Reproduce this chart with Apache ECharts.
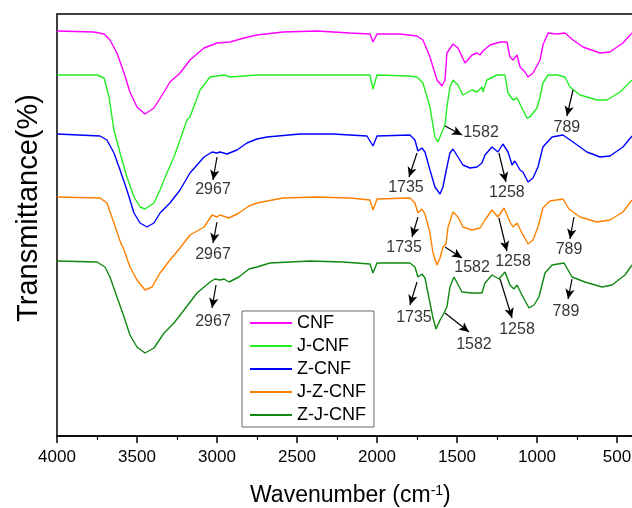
<!DOCTYPE html>
<html>
<head>
<meta charset="utf-8">
<script src="https://cdn.jsdelivr.net/npm/echarts@6/dist/echarts.min.js"></script>
<style>html,body{margin:0;padding:0;background:#fff;}#c{width:632px;height:508px;}</style>
</head>
<body>
<div id="c"></div>
<script>
// Spectra: [wavenumber (cm-1), transmittance (offset, arbitrary units)]
const cnf = [[4000,405],[3769,404],[3706,402],[3669,396],[3625,383],[3581,363],[3544,344],[3500,329],[3450,322],[3394,328],[3331,344],[3294,354],[3231,363],[3169,376],[3081,388],[3000,393],[2919,394],[2831,398],[2750,401],[2588,404],[2375,405],[2169,403],[2044,402],[2025,394],[2000,402],[1856,402],[1750,400],[1713,396],[1669,379],[1625,356],[1594,350],[1575,356],[1563,383],[1525,392],[1494,388],[1450,373],[1406,381],[1375,383],[1356,381],[1338,385],[1294,391],[1231,394],[1188,394],[1169,379],[1150,376],[1125,381],[1106,369],[1075,364],[1056,359],[1025,363],[981,376],[963,391],[931,403],[875,402],[825,403],[775,396],[713,389],[606,383],[544,384],[463,393],[406,403]];
const jcnf = [[4000,361],[3750,361],[3706,358],[3675,339],[3644,306],[3606,283],[3563,259],[3519,239],[3481,229],[3450,227],[3394,233],[3356,246],[3313,263],[3269,279],[3231,296],[3188,316],[3169,319],[3106,346],[3044,359],[2956,361],[2919,359],[2750,361],[2500,361],[2200,361],[2044,361],[2025,347],[2000,361],[1800,360],[1750,359],[1713,353],[1669,329],[1638,299],[1619,294],[1594,304],[1575,311],[1563,329],[1544,349],[1525,356],[1494,351],[1463,341],[1406,346],[1375,344],[1344,349],[1338,344],[1313,356],[1250,361],[1200,361],[1181,343],[1150,336],[1125,338],[1094,328],[1063,318],[1044,319],[1000,328],[981,339],[963,353],[931,361],[875,361],[825,359],[794,349],[731,341],[625,336],[563,336],[481,344],[406,356]];
const zcnf = [[4000,302],[3731,300],[3688,296],[3644,283],[3606,266],[3563,246],[3519,223],[3481,213],[3438,209],[3394,213],[3356,223],[3294,233],[3231,246],[3169,263],[3081,279],[3031,284],[3000,283],[2981,284],[2938,282],[2875,286],[2813,293],[2750,297],[2688,299],[2481,302],[2275,302],[2063,300],[2025,290],[2000,300],[1794,301],[1763,296],[1744,285],[1719,288],[1700,284],[1669,266],[1638,249],[1606,242],[1588,249],[1563,269],[1544,283],[1525,287],[1494,279],[1463,271],[1419,268],[1375,269],[1344,273],[1325,281],[1281,289],[1244,284],[1213,292],[1181,284],[1156,271],[1138,275],[1106,266],[1088,264],[1056,254],[1025,258],[994,269],[963,289],[906,299],[838,301],[775,294],[688,284],[606,279],[544,280],[463,289],[406,300]];
const jzcnf = [[4000,239],[3731,238],[3688,233],[3644,213],[3606,195],[3581,186],[3544,169],[3500,156],[3450,146],[3406,149],[3356,163],[3294,176],[3231,188],[3169,201],[3081,209],[3031,221],[3000,219],[2981,221],[2925,218],[2863,223],[2800,230],[2750,233],[2588,238],[2375,239],[2169,238],[2044,236],[2025,226],[2000,237],[1794,238],[1763,233],[1744,223],[1719,227],[1700,222],[1669,203],[1650,183],[1625,171],[1606,178],[1588,189],[1569,192],[1556,209],[1525,224],[1494,219],[1463,209],[1406,206],[1356,208],[1325,216],[1281,226],[1244,219],[1206,228],[1169,214],[1150,209],[1125,213],[1094,203],[1056,192],[1025,196],[994,209],[963,228],[919,235],[838,237],[800,227],[731,219],[625,214],[544,216],[463,224],[406,236]];
const zjcnf = [[4000,175],[3750,174],[3700,169],[3669,159],[3625,139],[3581,119],[3544,101],[3500,89],[3450,83],[3394,88],[3331,103],[3269,113],[3206,126],[3125,143],[3044,154],[3013,157],[2981,156],[2956,157],[2925,154],[2863,159],[2800,167],[2750,169],[2669,173],[2419,175],[2213,174],[2044,172],[2025,163],[2000,173],[1794,173],[1763,169],[1744,159],[1719,162],[1700,158],[1669,133],[1650,118],[1631,107],[1606,116],[1588,121],[1563,129],[1544,149],[1519,159],[1469,144],[1406,143],[1344,143],[1325,153],[1281,161],[1238,157],[1200,164],[1169,151],[1144,147],[1125,151],[1094,141],[1050,128],[1019,131],[988,139],[950,163],[906,171],[831,173],[781,159],[700,154],[594,149],[531,151],[450,161],[406,171]];

const seriesNames = ['CNF','J-CNF','Z-CNF','J-Z-CNF','Z-J-CNF'];
const xTicks = [4000,3500,3000,2500,2000,1500,1000,500];

// Peak annotations (data coordinates)
const annoText = ['2967','2967','2967','1735','1735','1735','1582','1582','1582','1258','1258','1258','789','789','789'];
const annoFrom = [[3000,279],[3000,214],[3006,151],[1750,283],[1744,219],[1750,154],[1575,310],[1575,189],[1575,123],[1238,283],[1238,218],[1231,157],[775,346],[769,219],[781,157]];
const annoTo   = [[3025,256],[3025,193],[3031,128],[1800,259],[1781,199],[1794,131],[1469,301],[1469,178],[1425,104],[1194,254],[1188,185],[1156,118],[813,320],[794,197],[806,137]];
const annoAt   = [[3025,246],[3025,181],[3025,114],[1819,248],[1831,188],[1769,118],[1350,303],[1406,168],[1394,91],[1188,243],[1150,174],[1125,106],[813,308],[800,186],[819,124]];

const FONT = '"Liberation Sans", Arial, sans-serif';
const colors = ['#ff00ff','#22ee22','#0000ff','#ff8000','#118811'];
const spectra = [cnf, jcnf, zcnf, jzcnf, zjcnf];

const chart = echarts.init(document.getElementById('c'), null, {renderer:'canvas'});
const series = spectra.map((d,i)=>({
  name: seriesNames[i], type:'line', data:d, symbol:'none', showSymbol:false,
  lineStyle:{color:colors[i], width:1.4}, itemStyle:{color:colors[i]}, animation:false, z:2
}));
series.push({
  name:'labels', type:'scatter', symbolSize:0, animation:false, z:5,
  data: annoAt.map((p,i)=>[p[0],p[1],annoText[i]]),
  label:{show:true, position:'inside', formatter:p=>p.value[2], color:'#000', fontSize:16, fontFamily:FONT},
  emphasis:{disabled:true},
  markLine:{
    silent:true, animation:false, symbol:['none','arrow'], symbolSize:[7,10],
    label:{show:false}, lineStyle:{color:'#000', width:1.2, type:'solid'},
    data: annoFrom.map((f,i)=>[{coord:f},{coord:annoTo[i]}])
  }
});

chart.setOption({
  backgroundColor:'#fff',
  animation:false,
  title:{
    text:'Wavenumber (cm{sup|-1})', left:245, top:479,
    textStyle:{fontSize:23, fontWeight:'normal', color:'#000', fontFamily:FONT,
      rich:{sup:{fontSize:14, verticalAlign:'top', color:'#000', fontFamily:FONT}}}
  },
  grid:{left:57, top:14, width:640, height:422, outerBoundsMode:'none', containLabel:false,
        show:true, borderColor:'#000', borderWidth:1.5},
  legend:{
    data:seriesNames, orient:'vertical', left:242, top:311, itemWidth:42, itemHeight:2, itemGap:5,
    icon:'rect',
    padding:[3,8,3,8], borderColor:'#666', borderWidth:1, backgroundColor:'#fff',
    textStyle:{fontSize:18, color:'#000', fontFamily:FONT, lineHeight:18}
  },
  xAxis:{
    type:'value', inverse:true, min:0, max:4000, interval:500,
    axisLine:{lineStyle:{color:'#000', width:1.5}},
    axisTick:{length:7, lineStyle:{color:'#000', width:1.5}},
    minorTick:{show:true, splitNumber:2, length:4, lineStyle:{color:'#000', width:1.2}},
    axisLabel:{fontSize:17, color:'#000', margin:13, fontFamily:FONT,
      formatter:v=> xTicks.indexOf(v)>=0 ? String(v) : ''},
    splitLine:{show:false}, minorSplitLine:{show:false}
  },
  yAxis:{
    type:'value', min:0, max:422,
    name:'Transmittance(%)', nameLocation:'middle', nameGap:14,
    nameTextStyle:{fontSize:29, color:'#000', fontFamily:FONT, padding:[0,0,0,34]},
    axisLine:{show:true, lineStyle:{color:'#000', width:1.5}},
    axisTick:{show:false}, axisLabel:{show:false}, splitLine:{show:false}
  },
  series:series
});
</script>
</body>
</html>
